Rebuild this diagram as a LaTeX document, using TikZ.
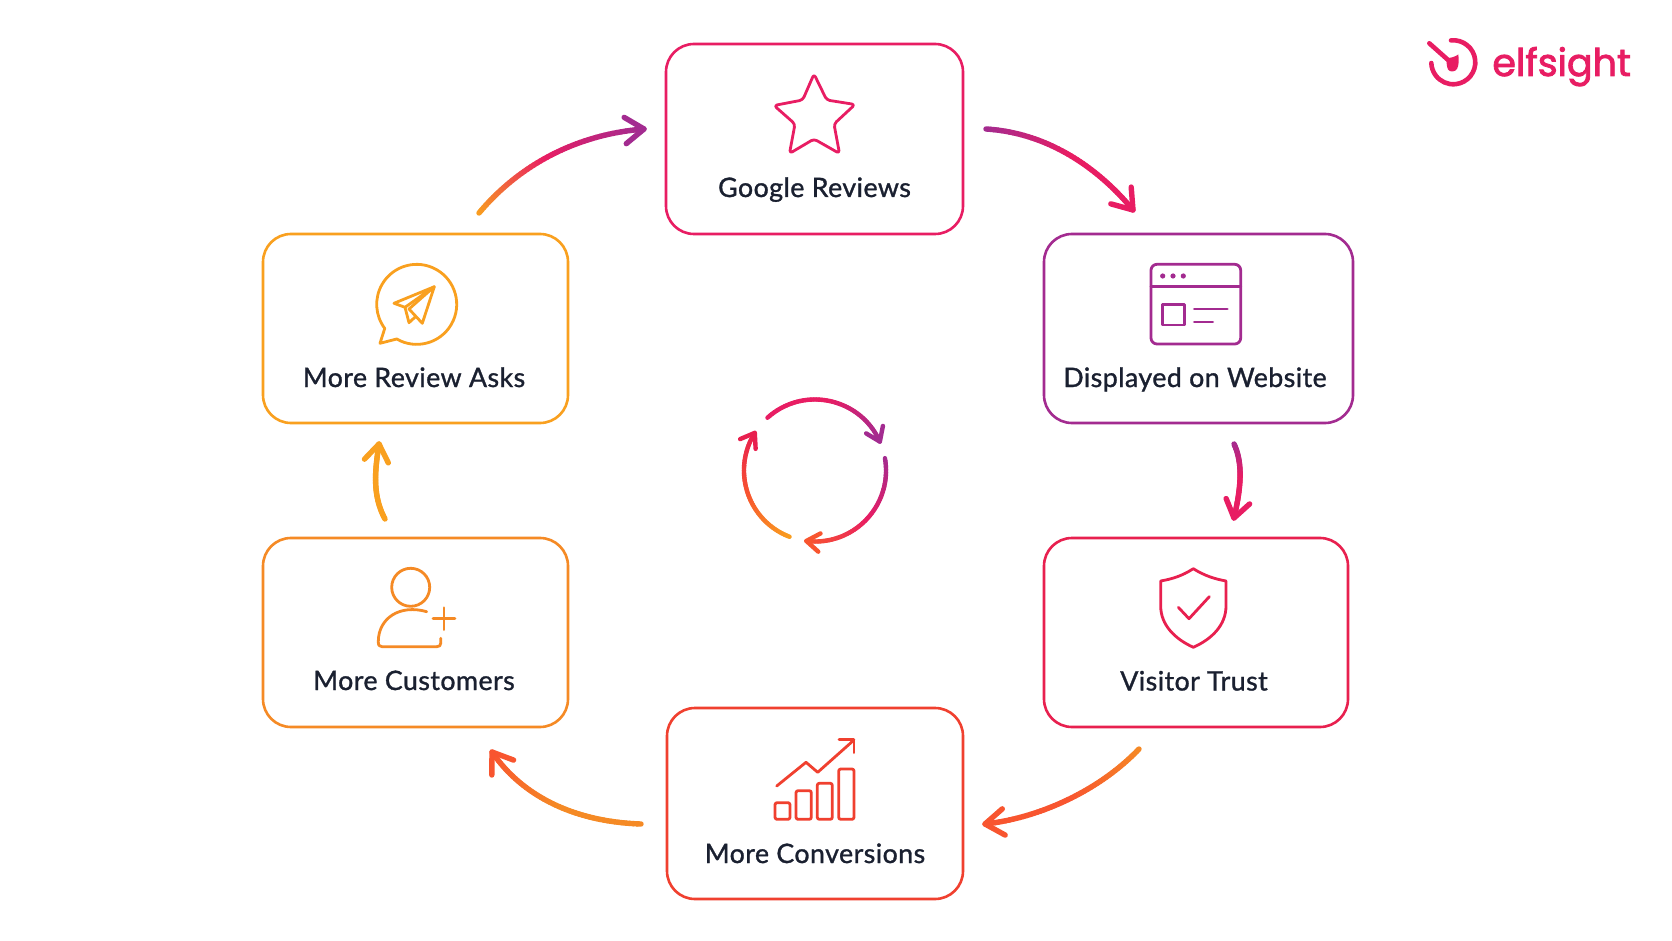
\documentclass[tikz,border=0pt]{standalone}
\usepackage{fontspec}
\usetikzlibrary{calc}
\newfontfamily\labfont[FakeBold=1.1,LetterSpace=1.6]{Lato}
\newfontfamily\logofont[FakeBold=2.2]{Poppins}
\definecolor{cpink}{HTML}{E81D63}
\definecolor{cpurple}{HTML}{A32B90}
\definecolor{ctrust}{HTML}{E8204F}
\definecolor{cred}{HTML}{F0402F}
\definecolor{corange}{HTML}{F58A25}
\definecolor{camber}{HTML}{F9A01F}
\definecolor{ctext}{HTML}{1A2030}
\definecolor{cmid}{HTML}{F8552F}
\tikzset{
  box/.style={draw=#1,line width=1.3pt,rounded corners=14pt,rectangle,inner sep=0pt,fill=white},
  lab/.style={font=\labfont\fontsize{13.4}{15}\selectfont,text=ctext,anchor=base,inner sep=0pt},
  ico/.style={draw=#1,line width=1.4pt,line cap=round,line join=round},
}
% start, control, control, end, colour A, colour B, colour C, width, head length
\newcommand{\gradcurve}[9]{%
  \foreach \i in {1,...,48}{%
    \pgfmathsetmacro\ta{(\i-1)/48}%
    \pgfmathsetmacro\tb{\i/48}%
    \pgfmathsetmacro\tm{(\i-0.5)/48}%
    \pgfmathsetmacro\pa{min(100,\tm*200)}%
    \pgfmathsetmacro\pb{max(0,(\tm-0.5)*200)}%
    \ifdim\tm pt<0.5pt \colorlet{segc}{#6!\pa!#5}\else \colorlet{segc}{#7!\pb!#6}\fi
    \path (#1) .. controls (#2) and (#3) .. (#4) coordinate[pos=\ta] (u) coordinate[pos=\tb] (v);
    \draw[segc,line width=#8,line cap=round] (u) -- (v);
  }%
  \draw[#7,line width=#8,line cap=round,line join=round]
    let \p1=($(#4)-(#3)$), \n1={atan2(\y1,\x1)} in
    ($(#4)+(\n1+145:#9)$) -- (#4) -- ($(#4)+(\n1-145:#9)$);
}
% cycle arc about (cyc)
\newcommand{\cyclearc}[6]{%
  \pgfmathsetmacro\kk{4/3*tan((#2-#1)/4)*71}%
  \coordinate (p0) at ($(cyc)+(#1:71)$);
  \coordinate (p3) at ($(cyc)+(#2:71)$);
  \coordinate (q1) at ($(p0)+(#1+90:\kk)$);
  \coordinate (q2) at ($(p3)+(#2-90:\kk)$);
  \gradcurve{p0}{q1}{q2}{p3}{#3}{#4}{#5}{2.2pt}{#6}
}
\begin{document}
\begin{tikzpicture}[x=0.5pt,y=-0.5pt]
\useasboundingbox (0,0) rectangle (1672,941);
\fill[white] (0,0) rectangle (1672,941);
% boxes
\node[box=cpink,minimum width=148.5pt,minimum height=95pt] (google) at (814.5,139) {};
\node[box=cpurple,minimum width=154.5pt,minimum height=94.5pt] (website) at (1198.5,328.5) {};
\node[box=ctrust,minimum width=152pt,minimum height=94.5pt] (trust) at (1196,632.5) {};
\node[box=cred,minimum width=148pt,minimum height=95.5pt] (conv) at (815,803.5) {};
\node[box=corange,minimum width=152.5pt,minimum height=94.5pt] (cust) at (415.5,632.5) {};
\node[box=camber,minimum width=152.5pt,minimum height=94.5pt] (asks) at (415.5,328.5) {};
% labels
\node[lab] (lgoogle) at (814.5,197) {Google Reviews};
\node[lab] (lwebsite) at (1195,387) {Displayed on Website};
\node[lab] (ltrust) at (1194,690.5) {Visitor Trust};
\node[lab] (lconv) at (815,863) {More Conversions};
\node[lab] (lcust) at (414,690) {More Customers};
\node[lab] (lasks) at (414,387) {More Review Asks};
% connector ends
\coordinate (s1) at (479,213); \coordinate (e1) at (644,129);
\coordinate (s2) at (986,129); \coordinate (e2) at (1133,210);
\coordinate (s3) at (1234,444); \coordinate (e3) at (1234,518);
\coordinate (s4) at (1139,749); \coordinate (e4) at (985,824);
\coordinate (s5) at (641,824); \coordinate (e5) at (492,752);
\coordinate (s6) at (385,519); \coordinate (e6) at (379,444);
\gradcurve{s1}{515,170}{570,135}{e1}{camber}{cpink}{cpurple}{2.7pt}{11.5pt}
\gradcurve{s2}{1050,133}{1100,170}{e2}{cpurple}{cpink}{cpink}{2.7pt}{11.5pt}
\gradcurve{s3}{1244,465}{1240,492}{e3}{cpurple}{cpink}{cpink}{2.7pt}{10.5pt}
\gradcurve{s4}{1100,790}{1040,818}{e4}{corange}{cmid}{cmid}{2.7pt}{11.5pt}
\gradcurve{s5}{580,822}{525,800}{e5}{corange}{corange}{cmid}{2.7pt}{11.5pt}
\gradcurve{s6}{372,495}{375,470}{e6}{camber}{camber}{camber}{2.7pt}{10.5pt}
% centre cycle
\coordinate (cyc) at (815,470.5);
\cyclearc{-132}{-24}{cpink}{cpink}{cpurple}{8pt}
\cyclearc{-10}{97}{cpurple}{cpink}{cmid}{8pt}
\cyclearc{111}{212}{camber}{cmid}{ctrust}{8pt}
% star
\draw[ico=cpink,rounded corners=1.6pt] (814,74) -- (826.7,100) -- (855,104.5) -- (834,124) -- (839.5,153.5) -- (814,139) -- (789.5,153.5) -- (795,124) -- (774,105.5) -- (802.7,100) -- cycle;
% browser
\draw[ico=cpurple,rounded corners=3pt] (1151,264.3) rectangle (1240.7,344);
\draw[ico=cpurple] (1151,286.7) -- (1240.7,286.7);
\foreach \dx in {1162.7,1173,1183.3}{\fill[cpurple] (\dx,276) circle[radius=2.6];}
\draw[ico=cpurple] (1162.7,304.3) rectangle (1184.3,325);
\draw[ico=cpurple] (1194.3,309) -- (1227.3,309);
\draw[ico=cpurple] (1194.3,322) -- (1212.7,322);
% shield
\draw[ico=ctrust] (1193.3,568.7) .. controls (1182,576) and (1172,579) .. (1160.7,581) -- (1160.7,606) .. controls (1160.7,625) and (1175,639) .. (1193.3,647.3) .. controls (1212,639) and (1226,625) .. (1226,606) -- (1226,581) .. controls (1215,579) and (1205,576) .. cycle;
\draw[ico=ctrust] (1178.3,607.3) -- (1189,618.7) -- (1209.3,596.7);
% chart
\draw[ico=cred,rounded corners=1pt] (775,802.7) rectangle (790,819.3);
\draw[ico=cred,rounded corners=1pt] (796,790.7) rectangle (811.3,819.3);
\draw[ico=cred,rounded corners=1pt] (817.3,783.3) rectangle (832.3,819.3);
\draw[ico=cred,rounded corners=1pt] (838.7,769) rectangle (854,819.3);
\draw[ico=cred] (776.7,786) -- (806,762.3) -- (817.7,772.3) -- (854,740);
\draw[ico=cred] (839,739.3) -- (854,739.3) -- (854,752.7);
% person
\draw[ico=corange] (410.7,587.3) circle[radius=19];
\draw[ico=corange] (426.7,611.7) .. controls (400,604) and (378.3,618) .. (378.3,641.7) .. controls (378.3,645) and (379,646.7) .. (382,646.7) -- (436.7,646.7) .. controls (439.5,646.7) and (440.7,645.5) .. (440.7,643.3) -- (440.7,638.3);
\draw[ico=corange] (433,618.7) -- (455,618.7);
\draw[ico=corange] (444,607.7) -- (444,629.7);
% speech bubble with plane
\draw[ico=camber] (396.7,339) arc[start angle=120,end angle=-217,radius=40] -- (380,343.3) -- cycle;
\draw[ico=camber] (434.3,286.7) -- (394,303.3) -- (405,307.3) -- cycle;
\draw[ico=camber] (434.3,286.7) -- (422.3,323.3) -- (409,309) -- (434.3,286.7);
\draw[ico=camber] (405,307.3) -- (409,322.7) -- (415.7,316.5);
% logo
\draw[cpink,line width=2.3pt,line cap=round] (1451,40.4) arc[start angle=-96,end angle=178,radius=22];
\draw[cpink,line width=2.3pt,line cap=round] (1429.3,43.3) -- (1450,61.7);
\fill[cpink] (1446.7,58.3) .. controls (1450,58) and (1455,57) .. (1458.3,54.5) .. controls (1459,60) and (1459,65) .. (1457,69) .. controls (1455,72) and (1450,72.5) .. (1448,69.5) .. controls (1446.5,66) and (1446.5,62) .. cycle;
\node[font=\logofont\fontsize{19}{21}\selectfont,text=cpink,anchor=base west,inner sep=0pt] (logo) at (1492,76) {elfsight};
\end{tikzpicture}
\end{document}
